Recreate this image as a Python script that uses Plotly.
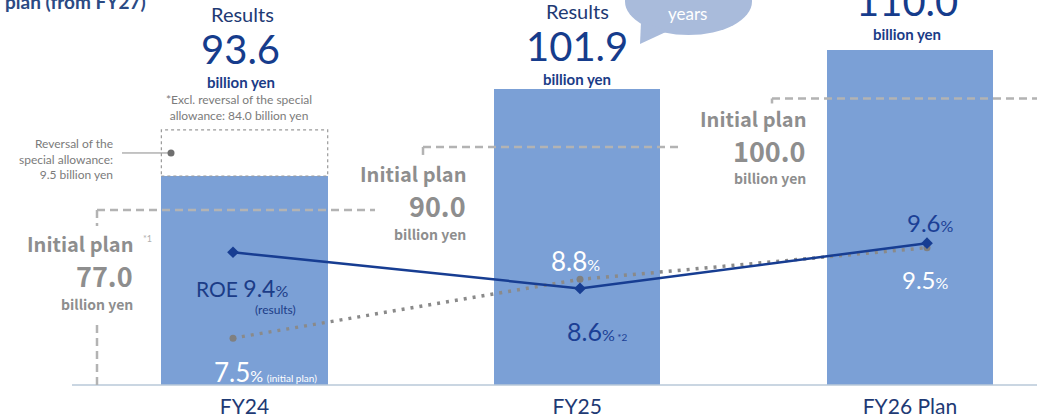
import plotly.graph_objects as go

# ---------------- data ----------------
categories = ["FY24", "FY25", "FY26 Plan"]
profit_results = [93.6, 101.9, 110.0]          # billion yen
profit_excl_fy24 = 84.0                         # excl. reversal of special allowance
reversal_fy24 = 9.5                             # reversal of the special allowance
profit_initial_plan = [77.0, 90.0, 100.0]       # billion yen
roe_results = [9.4, 8.6, 9.6]                   # %
roe_initial_plan = [7.5, 8.8, 9.5]              # %

bar_values = [profit_excl_fy24, profit_results[1], profit_results[2]]

W, H, MB = 1037, 418, 33
PH = H - MB

def X(px):
    return px / W

def Y(py):
    return 1 - py / PH

BAR = "#7ba0d6"
DARK = "#1b3c87"
NAVY = "#1e3a74"
GREY = "#8e8e8e"
NOTE = "#7b7b7b"
DASH = "#b3b3b3"
LAT = "Lato"
JP = "Noto Sans CJK JP"

fig = go.Figure()

fig.add_trace(go.Bar(
    x=categories, y=bar_values, width=0.5,
    marker=dict(color=BAR, line=dict(width=0)),
    hoverinfo="skip",
))

fig.add_trace(go.Scatter(
    x=categories, y=roe_initial_plan, xaxis="x2", yaxis="y2",
    mode="lines+markers",
    line=dict(color="#8a8a8a", width=3.5, dash="3px,6px"),
    marker=dict(symbol="circle", size=7, color="#808080"),
    hoverinfo="skip",
))
fig.add_trace(go.Scatter(
    x=categories, y=roe_results, xaxis="x2", yaxis="y2",
    mode="lines+markers",
    line=dict(color="#173d92", width=2.5),
    marker=dict(symbol="diamond", size=9, color="#173d92"),
    hoverinfo="skip",
))

shapes = []
annotations = []

def ann(text, x, y, xref="paper", yref="paper", size=12, color=DARK, family=LAT,
        xanchor="center", yanchor="middle", xshift=0, yshift=0, weight="normal",
        align="center"):
    annotations.append(dict(
        text=text, x=x, y=y, xref=xref, yref=yref, showarrow=False,
        font=dict(size=size, color=color, family=family, weight=weight),
        xanchor=xanchor, yanchor=yanchor, xshift=xshift, yshift=yshift,
        align=align,
    ))

# baseline
shapes.append(dict(type="line", xref="paper", yref="paper", x0=X(72), x1=1,
                   y0=0, y1=0, line=dict(color="#b9c8d9", width=1.5), layer="above"))

# FY24 reversal box (dotted)
shapes.append(dict(type="rect", xref="x", yref="y",
                   x0=-0.25, x1=0.25, y0=profit_excl_fy24,
                   y1=profit_excl_fy24 + reversal_fy24,
                   line=dict(color="#9a9a9a", width=1.2, dash="dot"),
                   fillcolor="white", layer="above"))
mid_rev = profit_excl_fy24 + reversal_fy24 / 2
shapes.append(dict(type="line", xref="paper", yref="y", x0=X(122), x1=X(171),
                   y0=mid_rev, y1=mid_rev, line=dict(color="#8a8a8a", width=1)))
shapes.append(dict(type="circle", xref="paper", yref="y", xsizemode="pixel",
                   ysizemode="pixel", xanchor=X(171), yanchor=mid_rev,
                   x0=-3.5, x1=3.5, y0=-3.5, y1=3.5,
                   fillcolor="#6f6f6f", line=dict(width=0)))
ann("Reversal of the<br>special allowance:<br>9.5 billion yen", X(115), mid_rev,
    yref="y", size=12, color=NOTE, xanchor="right", align="right", yshift=-6)

# initial plan dashed lines
plan_h = [(97, 375), (423, 680), (772, 1037)]
plan_x_right = [135, 468, 808]
plan_stub = [16, 10, 5]
plan_offsets = [(34, 66, 94), (27, 59, 87), (20, 52, 80)]
for i, v in enumerate(profit_initial_plan):
    x0, x1 = plan_h[i]
    shapes.append(dict(type="line", xref="paper", yref="y", x0=X(x0), x1=X(x1),
                       y0=v, y1=v, line=dict(color=DASH, width=2.5, dash="8px,5px"),
                       layer="above"))
    shapes.append(dict(type="line", xref="paper", yref="y", ysizemode="pixel",
                       yanchor=v, x0=X(x0), x1=X(x0), y0=0, y1=-plan_stub[i],
                       line=dict(color=DASH, width=2.5, dash="8px,5px")))
    o1, o2, o3 = plan_offsets[i]
    xr = X(plan_x_right[i])
    ann("Initial plan", xr, v, yref="y", size=20, color=GREY, family=JP,
        weight="bold", xanchor="right", yshift=-o1)
    ann(f"{v:.1f}", xr, v, yref="y", size=27, color=GREY, family=JP,
        weight="bold", xanchor="right", yshift=-o2)
    ann("billion yen", xr, v, yref="y", size=14, color=GREY, family=JP,
        weight="bold", xanchor="right", yshift=-o3)
# lower stub of FY24 plan line down to the baseline
shapes.append(dict(type="line", xref="paper", yref="paper", x0=X(97), x1=X(97),
                   y0=0, y1=Y(324), line=dict(color=DASH, width=2.5, dash="8px,5px")))
ann("*1", X(141), profit_initial_plan[0], yref="y", size=9, color="#b0b0b0",
    yshift=-29, xanchor="left")

# results labels above bars
top24 = profit_excl_fy24 + reversal_fy24
ann("*Excl. reversal of the special<br>allowance: %.1f billion yen" % profit_excl_fy24,
    categories[0], top24, xref="x", yref="y", size=12, color=NOTE, xshift=-6, yshift=22)
ann("billion yen", categories[0], top24, xref="x", yref="y", size=15, color=DARK,
    weight="bold", xshift=-4, yshift=48)
ann(f"{profit_results[0]:.1f}", categories[0], top24, xref="x", yref="y", size=40,
    color="#163c8c", xshift=-4, yshift=81)
ann("Results", categories[0], top24, xref="x", yref="y", size=20, color=NAVY,
    xshift=-2, yshift=116)

ann("billion yen", categories[1], profit_results[1], xref="x", yref="y", size=15,
    color=DARK, weight="bold", yshift=10)
ann(f"{profit_results[1]:.1f}", categories[1], profit_results[1], xref="x", yref="y",
    size=40, color="#163c8c", yshift=43)
ann("Results", categories[1], profit_results[1], xref="x", yref="y", size=20,
    color=NAVY, yshift=78)

ann("billion yen", categories[2], profit_results[2], xref="x", yref="y", size=15,
    color=DARK, weight="bold", yshift=16, xshift=-3)
ann(f"{profit_results[2]:.1f}", categories[2], profit_results[2], xref="x", yref="y",
    size=40, color="#163c8c", yshift=49, xshift=-3)

# ROE labels
pct = "<span style='font-size:16px'>%</span>"
ann(f"ROE <span style='font-size:23px'>{roe_results[0]}</span>{pct}", categories[0],
    roe_results[0], xref="x2", yref="y2", size=21, color=DARK, xshift=9, yshift=-36)
ann("(results)", categories[0], roe_results[0], xref="x2", yref="y2", size=12,
    color=DARK, xshift=42, yshift=-57)
ann(f"<span style='font-size:26px'>{roe_initial_plan[0]}</span>{pct} "
    f"<span style='font-size:10px'>(initial plan)</span>", categories[0],
    roe_initial_plan[0], xref="x2", yref="y2", size=14, color="white",
    xshift=32, yshift=-34)
ann(f"{roe_initial_plan[1]}{pct}", categories[1], roe_initial_plan[1], xref="x2",
    yref="y2", size=26, color="white", xshift=-5, yshift=18)
ann(f"{roe_results[1]}{pct}<span style='font-size:10px'> *2</span>", categories[1],
    roe_results[1], xref="x2", yref="y2", size=25, color="#1b3f95",
    xshift=17, yshift=-43)
ann(f"{roe_results[2]}{pct}", categories[2], roe_results[2], xref="x2", yref="y2",
    size=24, color="#1b3f95", xshift=3, yshift=21)
ann(f"{roe_initial_plan[2]}{pct}", categories[2], roe_initial_plan[2], xref="x2",
    yref="y2", size=24, color="white", xshift=-2, yshift=-32)

# speech bubble
BUB = "#a9bbdb"
shapes.append(dict(type="circle", xref="paper", yref="paper",
                   x0=X(625), x1=X(752), y0=Y(35), y1=Y(-32),
                   fillcolor=BUB, line=dict(width=0)))
shapes.append(dict(type="path", xref="paper", yref="paper",
                   path=f"M {X(641)} {Y(22)} L {X(640)} {Y(44)} L {X(668)} {Y(31)} Z",
                   fillcolor=BUB, line=dict(width=0)))
ann("years", X(687), Y(13), size=17, color="white")

# cropped heading at top-left
ann("plan (from FY27)", X(3), Y(15), size=19, color="#2b4a84", weight="bold",
    xanchor="left", yanchor="bottom")

fig.update_layout(
    width=W, height=H,
    margin=dict(l=0, r=0, t=0, b=MB),
    paper_bgcolor="white", plot_bgcolor="white",
    showlegend=False, bargap=0,
    shapes=shapes, annotations=annotations,
    xaxis=dict(type="category", categoryarray=categories, range=[-0.735, 2.382],
               showgrid=False, zeroline=False, showline=False,
               ticks="outside", ticklen=3, tickcolor="rgba(0,0,0,0)",
               tickfont=dict(size=21, color=NAVY, family=LAT)),
    yaxis=dict(range=[40.87, 120.32], visible=False),
    xaxis2=dict(type="category", categoryarray=categories, overlaying="x",
                range=[-0.6715, 2.317], visible=False),
    yaxis2=dict(range=[6.464, 14.978], overlaying="y", visible=False),
)

fig.write_html("out.html")
